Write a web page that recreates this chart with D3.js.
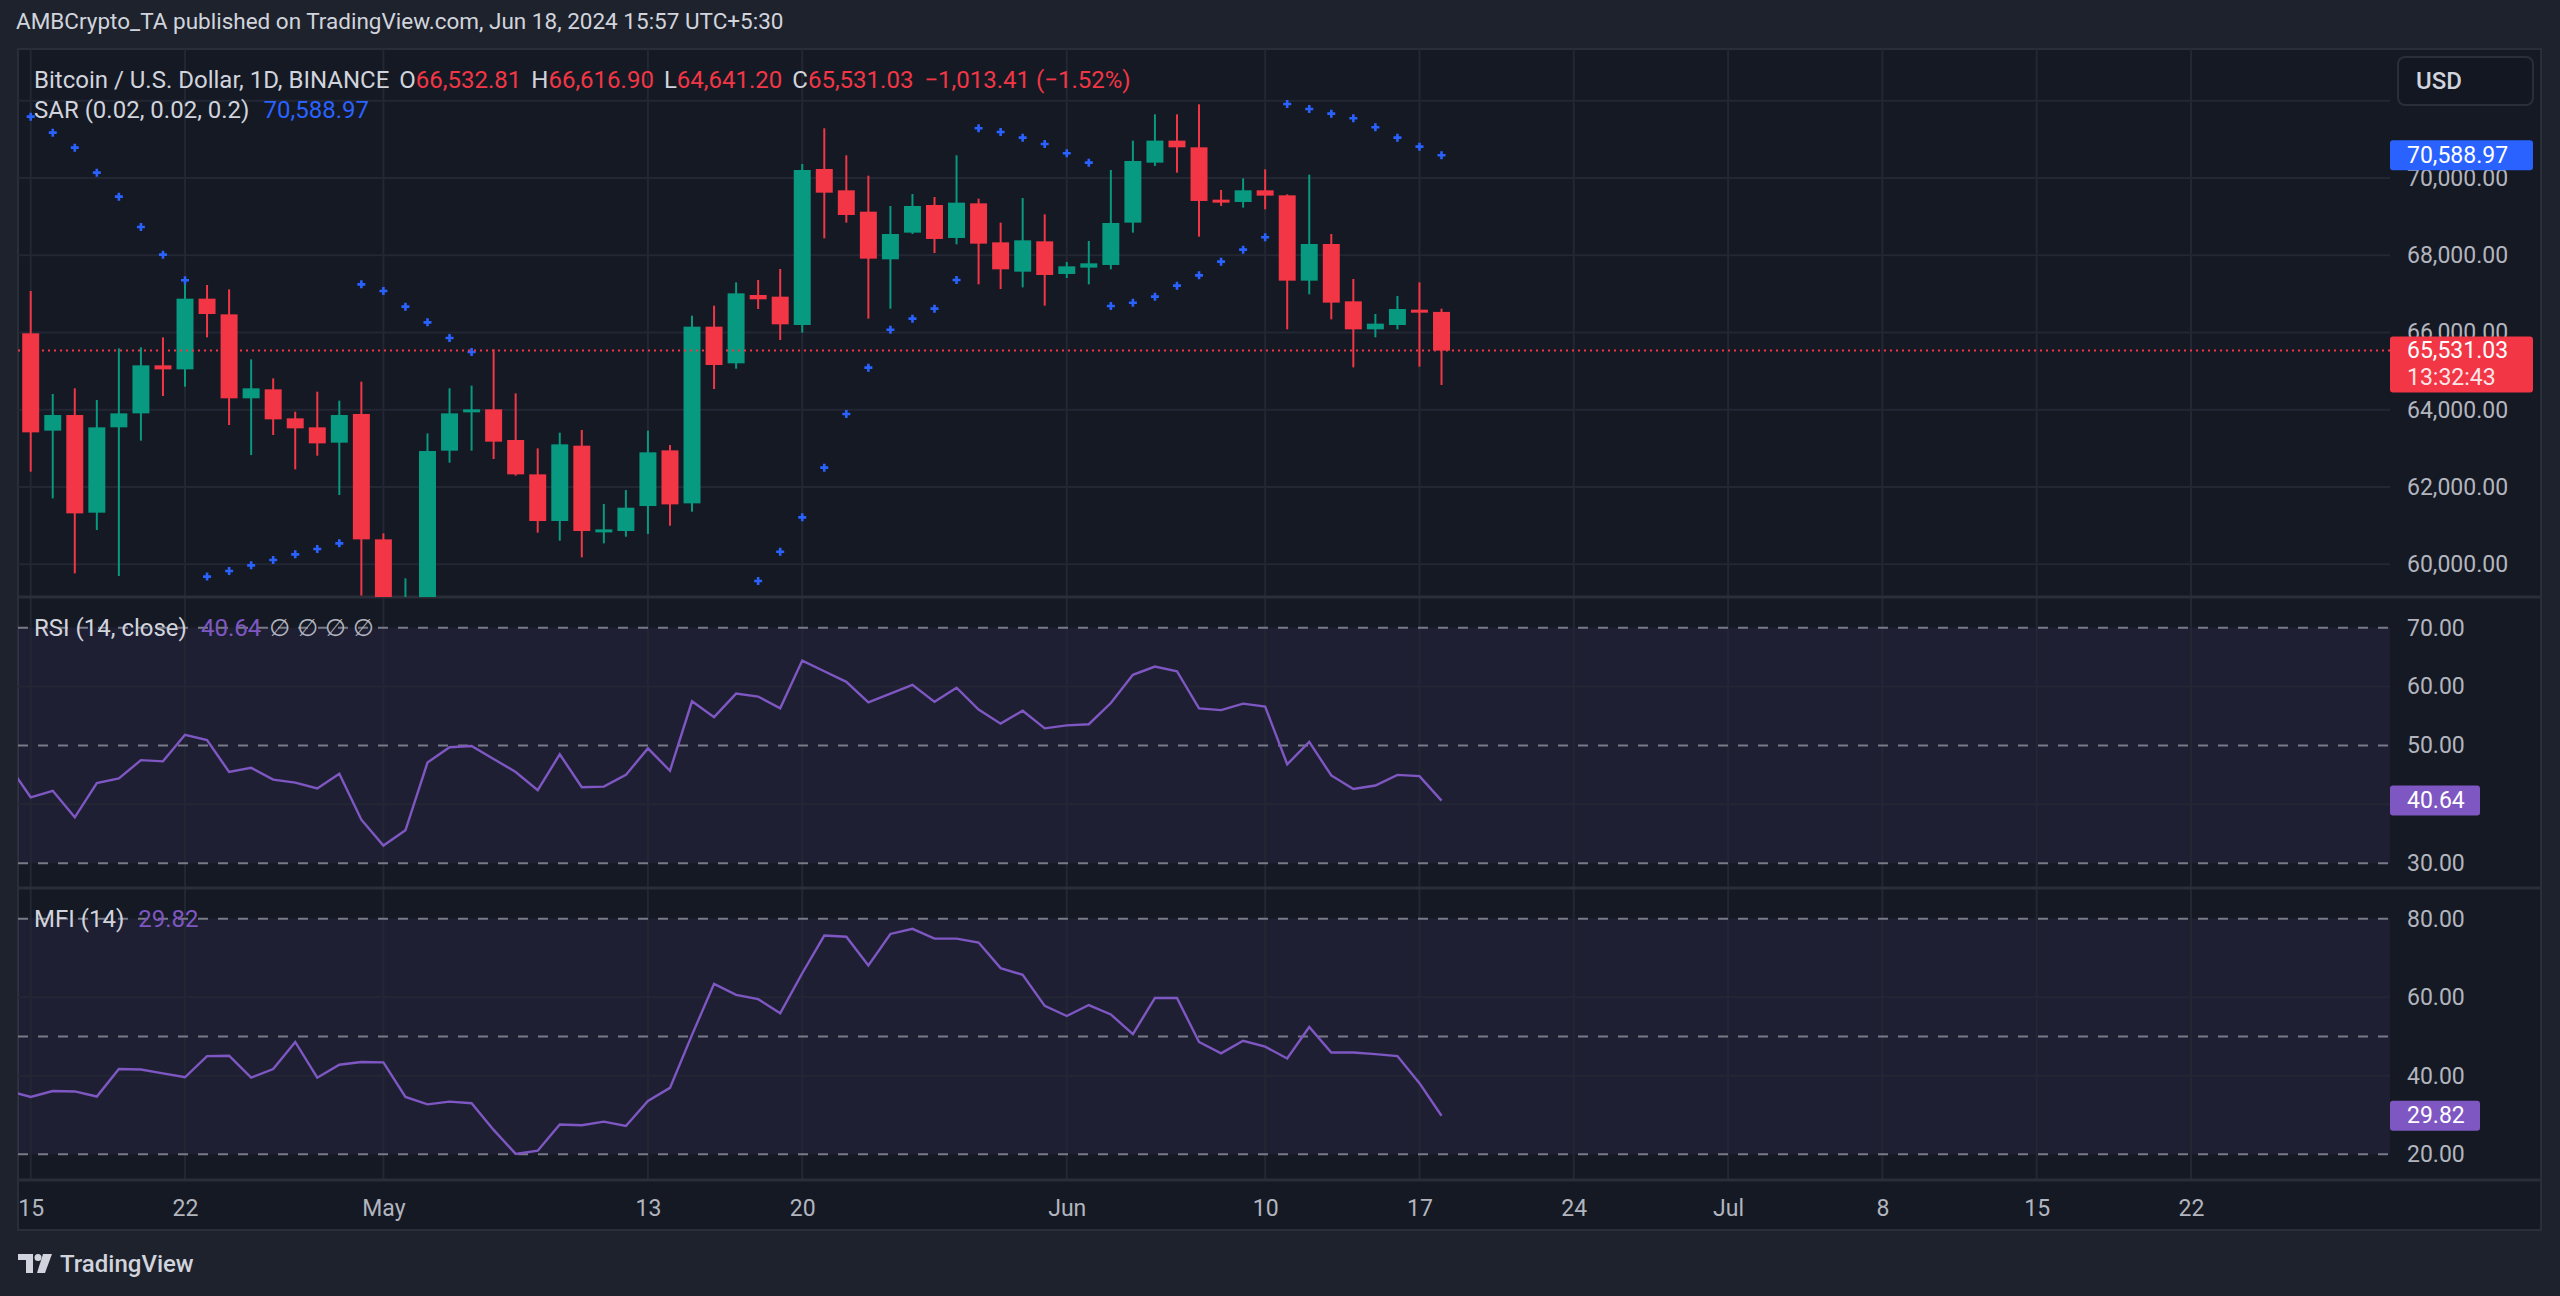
<!DOCTYPE html>
<html>
<head>
<meta charset="utf-8">
<script src="https://cdn.jsdelivr.net/npm/d3@7"></script>
<style>
  body { margin: 0; background: #1e222d; }
  svg { display: block; }
  text { font-family: Roboto, "Noto Sans", "DejaVu Sans", sans-serif; }
</style>
</head>
<body>
<svg width="2560" height="1296"></svg>
<script>
// BTC/USD daily, BINANCE, Apr 15 - Jun 18 2024
const dates = [
  "2024-04-15","2024-04-16","2024-04-17","2024-04-18","2024-04-19","2024-04-20","2024-04-21","2024-04-22",
  "2024-04-23","2024-04-24","2024-04-25","2024-04-26","2024-04-27","2024-04-28","2024-04-29","2024-04-30",
  "2024-05-01","2024-05-02","2024-05-03","2024-05-04","2024-05-05","2024-05-06","2024-05-07","2024-05-08",
  "2024-05-09","2024-05-10","2024-05-11","2024-05-12","2024-05-13","2024-05-14","2024-05-15","2024-05-16",
  "2024-05-17","2024-05-18","2024-05-19","2024-05-20","2024-05-21","2024-05-22","2024-05-23","2024-05-24",
  "2024-05-25","2024-05-26","2024-05-27","2024-05-28","2024-05-29","2024-05-30","2024-05-31","2024-06-01",
  "2024-06-02","2024-06-03","2024-06-04","2024-06-05","2024-06-06","2024-06-07","2024-06-08","2024-06-09",
  "2024-06-10","2024-06-11","2024-06-12","2024-06-13","2024-06-14","2024-06-15","2024-06-16","2024-06-17",
  "2024-06-18"
];
const open = [
  65979,63459,63864,61336,63545,63907,65150,65046,66876,66470,64296,64529,63778,63545,63148,63890,
  60645,58400,59050,62941,63976,64011,63217,62328,61120,63070,60870,60861,61508,62949,61577,66151,
  65202,66971,66928,66194,70233,69681,69128,67894,68585,69301,68447,69344,68334,67575,68360,67515,
  67679,67748,68844,70397,70967,70794,69439,69379,69681,69551,67342,68291,66807,66082,66194,66591,
  66532.81
];
const high = [
  67075,64408,64555,64252,65590,65616,65875,67376,67230,67118,65305,64813,63950,64468,64235,64727,
  60800,59636,63389,64555,64624,65564,64425,63001,63407,63476,61560,61922,63459,63087,66436,66695,
  67299,67359,67644,70362,71286,70587,70060,69275,69586,69508,70587,69465,68844,69482,69059,67825,
  68369,70207,70966,71648,71648,71907,69689,69991,70224,69577,70086,68550,67385,66479,66945,67299,
  66616.90
];
const low = [
  62397,61707,59765,60887,59696,63200,64356,64598,65875,63605,62829,63346,62457,62811,61793,59191,
  56550,56900,58850,62630,62941,62725,62294,60818,60611,60179,60542,60714,60783,60999,61362,64537,
  65064,66608,65806,65996,68438,68844,66358,66617,68550,68058,68283,67247,67126,67169,66695,67411,
  67247,67635,68585,70311,70138,68481,69275,69232,69189,66082,66988,66341,65098,65875,66082,65116,
  64641.20
];
const close = [
  63415,63864,61318,63545,63907,65150,65046,66876,66479,64296,64555,63752,63519,63130,63864,60645,
  58400,59050,62932,63907,64011,63174,62328,61120,63105,60861,60904,61465,62898,61551,66151,65159,
  67014,66859,66212,70207,69620,69042,67912,68550,69275,68421,69361,68300,67635,68386,67489,67713,
  67791,68835,70440,70967,70794,69405,69405,69681,69543,67342,68291,66773,66082,66229,66608,66544.44,
  65531.03
];
// Parabolic SAR (0.02, 0.02, 0.2); null where the dots sit below the visible pane
const sar = [
  71588,71174,70785,70138,69517,68731,68015,67351,59681,59825,59972,60110,60257,60395,60542,67247,
  67074,66669,66263,65858,65495,null,null,null,null,null,null,null,null,null,null,null,
  null,59567,60326,61215,62501,63890,65090,66073,66358,66617,67359,71286,71191,71044,70880,70639,
  70397,66686,66772,66928,67213,67480,67834,68145,68464,71916,71786,71666,71545,71312,71044,70811,
  70588.97
];
// RSI and MFI start one day earlier (Apr 14), the line enters from the left edge
const indicatorStart = "2024-04-14";
const rsi = [
  46.6,
  41.2,42.3,37.8,43.6,44.4,47.5,47.3,51.8,50.9,45.5,46.2,44.2,43.7,42.7,45.2,37.4,
  33.0,35.6,47.1,49.7,49.9,47.7,45.5,42.4,48.5,42.9,43.0,45.0,49.5,45.7,57.5,54.8,
  58.8,58.3,56.3,64.4,62.6,60.8,57.3,58.8,60.3,57.4,59.8,56.1,53.7,55.9,52.9,53.4,
  53.6,57.2,62.0,63.4,62.6,56.3,56.0,57.1,56.6,46.8,50.6,44.9,42.6,43.2,45.0,44.8,
  40.64
];
const mfi = [
  36.1,
  34.6,36.1,36.0,34.7,41.7,41.6,40.6,39.6,45.0,45.1,39.5,41.7,48.6,39.5,42.8,43.5,
  43.4,34.6,32.7,33.4,33.0,26.2,20.1,20.9,27.6,27.4,28.3,27.2,33.6,36.9,50.4,63.4,
  60.6,59.5,55.9,66.1,75.7,75.4,68.1,76.1,77.4,74.9,74.9,73.9,67.4,65.7,57.8,55.2,
  58.0,55.6,50.6,59.8,59.8,48.6,45.7,48.9,47.4,44.4,52.4,45.9,45.9,45.5,45.0,38.1,
  29.82
];

const timeTicks = ["2024-04-15","2024-04-22","2024-05-01","2024-05-13","2024-05-20","2024-06-01",
  "2024-06-10","2024-06-17","2024-06-24","2024-07-01","2024-07-08","2024-07-15","2024-07-22"];
const timeLabels = ["15","22","May","13","20","Jun","10","17","24","Jul","8","15","22"];
const priceGrid = [60000, 62000, 64000, 66000, 68000, 70000, 72000];
const priceLabels = [60000, 62000, 64000, 66000, 68000, 70000];
const rsiTicks = [30, 40, 50, 60, 70];
const mfiTicks = [20, 40, 60, 80];

const svg = d3.select("svg");
const parse = d3.utcParse("%Y-%m-%d");
const fmt = d3.format(",.2f");
const fmt2 = d3.format(".2f");

const red = "#f23645", green = "#089981", blue = "#2962ff", purple = "#7e57c2";
const textCol = "#d1d4dc", axisCol = "#b2b5be", gridCol = "#232733", paneBg = "#151924";

// layout
const L = 18, R = 2541, plotR = 2390;
const price = { top: 49, bottom: 597 };
const rsiP = { top: 597, bottom: 888 };
const mfiP = { top: 888, bottom: 1180 };
const axisBottom = 1230;

const x = d3.scaleUtc()
  .domain([parse("2024-04-15"), parse("2024-07-22")])
  .range([30.7, 2191]);
const y = d3.scaleLinear().domain([59153, 73339]).range([price.bottom, price.top]);
const yR = d3.scaleLinear().domain([25.8, 75.2]).range([rsiP.bottom, rsiP.top]);
const yM = d3.scaleLinear().domain([13.45, 87.8]).range([mfiP.bottom, mfiP.top]);

const candles = dates.map((d, i) => ({
  date: parse(d), o: open[i], h: high[i], l: low[i], c: close[i], s: sar[i]
}));
const ind0 = parse(indicatorStart);
const rsiData = rsi.map((v, i) => ({ date: d3.utcDay.offset(ind0, i), v }));
const mfiData = mfi.map((v, i) => ({ date: d3.utcDay.offset(ind0, i), v }));

const step = x(candles[1].date) - x(candles[0].date);
const bw = step * 0.77;

// frame
svg.append("rect").attr("width", 2560).attr("height", 1296).attr("fill", "#1e222d");
svg.append("rect")
  .attr("x", L).attr("y", price.top).attr("width", R - L).attr("height", axisBottom - price.top)
  .attr("fill", paneBg).attr("stroke", "#2a2e39").attr("stroke-width", 2);

const defs = svg.append("defs");
function clip(id, p) {
  defs.append("clipPath").attr("id", id).append("rect")
    .attr("x", L).attr("y", p.top).attr("width", plotR - L).attr("height", p.bottom - p.top);
}
clip("cp-price", price);
clip("cp-rsi", rsiP);
clip("cp-mfi", mfiP);

// oscillator bands
svg.append("rect").attr("x", L).attr("width", plotR - L)
  .attr("y", yR(70)).attr("height", yR(30) - yR(70)).attr("fill", purple).attr("fill-opacity", 0.1);
svg.append("rect").attr("x", L).attr("width", plotR - L)
  .attr("y", yM(80)).attr("height", yM(20) - yM(80)).attr("fill", purple).attr("fill-opacity", 0.1);

// vertical grid
svg.append("g").selectAll("line").data(timeTicks).join("line")
  .attr("x1", d => x(parse(d))).attr("x2", d => x(parse(d)))
  .attr("y1", price.top).attr("y2", mfiP.bottom)
  .attr("stroke", gridCol).attr("stroke-width", 2);

// horizontal grid
function hgrid(vals, scale) {
  svg.append("g").selectAll("line").data(vals).join("line")
    .attr("x1", L).attr("x2", plotR)
    .attr("y1", d => scale(d)).attr("y2", d => scale(d))
    .attr("stroke", gridCol).attr("stroke-width", 2);
}
hgrid(priceGrid, y);
hgrid([40, 60], yR);
hgrid([40, 60], yM);

function dashed(vals, scale) {
  svg.append("g").selectAll("line").data(vals).join("line")
    .attr("x1", L).attr("x2", plotR)
    .attr("y1", d => scale(d)).attr("y2", d => scale(d))
    .attr("stroke", "#787b86").attr("stroke-width", 2).attr("stroke-dasharray", "10,10");
}
dashed([70, 50, 30], yR);
dashed([80, 50, 20], yM);

// pane separators
[rsiP.top, mfiP.top, mfiP.bottom].forEach(v => {
  svg.append("line").attr("x1", L).attr("x2", R).attr("y1", v).attr("y2", v)
    .attr("stroke", "#2a2e39").attr("stroke-width", 3);
});

// candles
const gc = svg.append("g").attr("clip-path", "url(#cp-price)");
const col = d => d.c >= d.o ? green : red;
gc.selectAll("line.wick").data(candles).join("line").attr("class", "wick")
  .attr("x1", d => x(d.date)).attr("x2", d => x(d.date))
  .attr("y1", d => y(d.h)).attr("y2", d => y(d.l))
  .attr("stroke", col).attr("stroke-width", 2);
gc.selectAll("rect.body").data(candles).join("rect").attr("class", "body")
  .attr("x", d => x(d.date) - bw / 2).attr("width", bw)
  .attr("y", d => y(Math.max(d.o, d.c)))
  .attr("height", d => Math.max(3, Math.abs(y(d.o) - y(d.c))))
  .attr("fill", col);

// SAR crosses
gc.selectAll("path.sar").data(candles.filter(d => d.s != null)).join("path").attr("class", "sar")
  .attr("d", d => `M${x(d.date) - 4},${y(d.s)}H${x(d.date) + 4}M${x(d.date)},${y(d.s) - 4}V${y(d.s) + 4}`)
  .attr("stroke", blue).attr("stroke-width", 2.6);

// last price line
const last = candles[candles.length - 1];
const prev = candles[candles.length - 2];
svg.append("line").attr("x1", L).attr("x2", plotR)
  .attr("y1", y(last.c)).attr("y2", y(last.c))
  .attr("stroke", red).attr("stroke-width", 2).attr("stroke-dasharray", "2,4");

// oscillator lines
svg.append("path").datum(rsiData).attr("clip-path", "url(#cp-rsi)")
  .attr("d", d3.line().x(d => x(d.date)).y(d => yR(d.v)))
  .attr("fill", "none").attr("stroke", purple).attr("stroke-width", 2.4);
svg.append("path").datum(mfiData).attr("clip-path", "url(#cp-mfi)")
  .attr("d", d3.line().x(d => x(d.date)).y(d => yM(d.v)))
  .attr("fill", "none").attr("stroke", purple).attr("stroke-width", 2.4);

// axes
function styleAxis(g) {
  g.select(".domain").remove();
  g.selectAll("text").attr("fill", axisCol).attr("font-size", 23)
    .attr("font-family", "Roboto, sans-serif");
}
svg.append("g").attr("transform", `translate(${plotR},0)`)
  .call(d3.axisRight(y).tickValues(priceLabels).tickFormat(fmt).tickSize(0).tickPadding(17))
  .call(styleAxis);
svg.append("g").attr("transform", `translate(${plotR},0)`)
  .call(d3.axisRight(yR).tickValues(rsiTicks).tickFormat(fmt2).tickSize(0).tickPadding(17))
  .call(styleAxis);
svg.append("g").attr("transform", `translate(${plotR},0)`)
  .call(d3.axisRight(yM).tickValues(mfiTicks).tickFormat(fmt2).tickSize(0).tickPadding(17))
  .call(styleAxis);
svg.append("g").attr("transform", `translate(0,${mfiP.bottom})`)
  .call(d3.axisBottom(x).tickValues(timeTicks.map(parse)).tickFormat((d, i) => timeLabels[i])
    .tickSize(0).tickPadding(20))
  .call(styleAxis);

// value tags on the scale
function tag(yv, w, h, fill, label, sub) {
  const g = svg.append("g");
  g.append("rect").attr("x", plotR).attr("y", yv - (sub ? 14 : h / 2)).attr("width", w).attr("height", h)
    .attr("rx", 3).attr("fill", fill);
  g.append("text").attr("x", plotR + 17).attr("y", yv).attr("dominant-baseline", "central")
    .attr("font-size", 23).attr("fill", "#ffffff").text(label);
  if (sub) g.append("text").attr("x", plotR + 17).attr("y", yv + 27).attr("dominant-baseline", "central")
    .attr("font-size", 23).attr("fill", "#ffffff").attr("fill-opacity", 0.9).text(sub);
}
tag(y(last.s), 143, 30, blue, fmt(last.s));
tag(y(last.c), 143, 56, red, fmt(last.c), "13:32:43");
tag(yR(rsi[rsi.length - 1]), 90, 30, purple, fmt2(rsi[rsi.length - 1]));
tag(yM(mfi[mfi.length - 1]), 90, 30, purple, fmt2(mfi[mfi.length - 1]));

// currency button
svg.append("rect").attr("x", 2398).attr("y", 57).attr("width", 135).attr("height", 48).attr("rx", 7)
  .attr("fill", "#131722").attr("stroke", "#2a2e39").attr("stroke-width", 2);
svg.append("text").attr("x", 2416).attr("y", 81).attr("dominant-baseline", "central")
  .attr("font-size", 24).attr("font-weight", 500).attr("fill", textCol).text("USD");

// legends: parts flow left to right, dx is the gap before a part
function legendLine(yv, parts) {
  const t = svg.append("text").attr("x", 34).attr("y", yv)
    .attr("dominant-baseline", "central").attr("font-size", 24);
  parts.forEach(p => t.append("tspan").attr("dx", p.dx || 0).attr("fill", p.c).text(p.t));
}
const chg = last.c - prev.c;
legendLine(80, [
  { c: textCol, t: "Bitcoin / U.S. Dollar, 1D, BINANCE" },
  { dx: 10, c: textCol, t: "O" }, { c: red, t: fmt(last.o) },
  { dx: 10, c: textCol, t: "H" }, { c: red, t: fmt(last.h) },
  { dx: 10, c: textCol, t: "L" }, { c: red, t: fmt(last.l) },
  { dx: 10, c: textCol, t: "C" }, { c: red, t: fmt(last.c) },
  { dx: 11, c: red, t: `${fmt(chg)} (${fmt2(chg / prev.c * 100).replace("-", "−")}%)` }
]);
legendLine(110, [
  { c: textCol, t: "SAR (0.02, 0.02, 0.2)" },
  { dx: 14, c: blue, t: fmt(last.s) }
]);
legendLine(yR(70), [
  { c: textCol, t: "RSI (14, close)" },
  { dx: 14, c: purple, t: fmt2(rsi[rsi.length - 1]) },
  { dx: 8, c: axisCol, t: "∅" }, { dx: 7, c: axisCol, t: "∅" },
  { dx: 7, c: axisCol, t: "∅" }, { dx: 7, c: axisCol, t: "∅" }
]);
legendLine(yM(80), [
  { c: textCol, t: "MFI (14)" },
  { dx: 14, c: purple, t: fmt2(mfi[mfi.length - 1]) }
]);

// header
svg.append("text").attr("x", 16).attr("y", 21).attr("dominant-baseline", "central")
  .attr("font-size", 22.5).attr("fill", textCol)
  .text("AMBCrypto_TA published on TradingView.com, Jun 18, 2024 15:57 UTC+5:30");

// TradingView mark
const logo = svg.append("g").attr("fill", textCol);
logo.append("rect").attr("x", 18).attr("y", 1254).attr("width", 15).attr("height", 6);
logo.append("rect").attr("x", 26).attr("y", 1254).attr("width", 7).attr("height", 19);
logo.append("circle").attr("cx", 38).attr("cy", 1257.5).attr("r", 3.5);
logo.append("path").attr("d", "M43,1254H52L45,1273H37Z");
svg.append("text").attr("x", 60).attr("y", 1264).attr("dominant-baseline", "central")
  .attr("font-size", 24).attr("font-weight", 500).attr("fill", textCol).text("TradingView");
</script>
</body>
</html>
